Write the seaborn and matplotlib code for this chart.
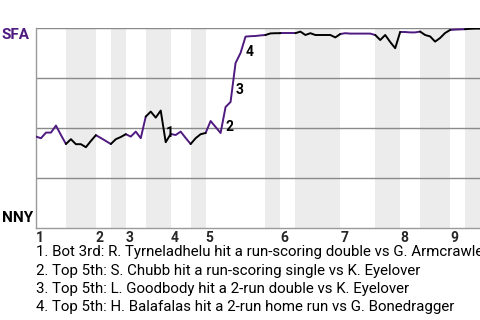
import matplotlib
matplotlib.use("Agg")
import matplotlib.pyplot as plt
import seaborn as sns
import pandas as pd
import numpy as np

# ---- data ----
# SFA win probability after each plate appearance (index = plate appearance)
win_prob = [0.457, 0.449, 0.477, 0.477, 0.512, 0.465,
            0.420, 0.444, 0.419, 0.419, 0.404, 0.435,
            0.464, 0.450, 0.435,
            0.420, 0.444, 0.455,
            0.469, 0.457, 0.482, 0.449,
            0.557, 0.582, 0.552, 0.587, 0.429,
            0.470, 0.465, 0.482, 0.450,
            0.420, 0.449, 0.469,
            0.475, 0.535, 0.505, 0.475, 0.605, 0.630, 0.825, 0.875,
            0.957, 0.959, 0.960, 0.963,
            0.965, 0.973, 0.974,
            0.974, 0.974, 0.974,
            0.974, 0.982, 0.965, 0.974, 0.965, 0.965, 0.965, 0.965, 0.953,
            0.970, 0.974, 0.972, 0.972, 0.972, 0.972, 0.972,
            0.965, 0.940, 0.965, 0.930, 0.899,
            0.980, 0.980, 0.978, 0.978,
            0.982, 0.965, 0.958, 0.932, 0.950, 0.975,
            0.990, 0.992, 0.993,
            0.994, 0.996, 0.997, 0.997]

# plate-appearance index where each half inning begins (top 1, bot 1, top 2, ...)
half_starts = [0, 6, 12, 15, 18, 22, 27, 31, 34, 46, 49, 52, 61, 68, 73, 77, 83, 86]
inning_labels = ["1", "2", "3", "4", "5", "6", "7", "8", "9"]
x_end = 89

# key events: plate appearance index where the swing ends, label number
event_idx = [26, 38, 40, 42]
event_nums = ["1", "2", "3", "4"]
event_texts = [
    "1. Bot 3rd: R. Tyrneladhelu hit a run-scoring double vs G. Armcrawler",
    "2. Top 5th: S. Chubb hit a run-scoring single vs K. Eyelover",
    "3. Top 5th: L. Goodbody hit a 2-run double vs K. Eyelover",
    "4. Top 5th: H. Balafalas hit a 2-run home run vs G. Bonedragger",
]
team_top = "SFA"
team_bottom = "NNY"

PURPLE = "#4f1a80"

# ---- build table of segments by half inning ----
rows = []
bounds = half_starts + [x_end]
for h in range(len(half_starts)):
    s, e = bounds[h], min(bounds[h + 1], len(win_prob) - 1)
    side = "top" if h % 2 == 0 else "bot"
    for i in range(s, e + 1):
        rows.append({"pa": i, "wp": win_prob[i], "half": h, "side": side})
df = pd.DataFrame(rows)

sns.set_theme(style="white")
plt.rcParams["font.family"] = ["Roboto", "DejaVu Sans"]

fig = plt.figure(figsize=(4.8, 3.2), dpi=100)
ax = fig.add_axes([36 / 480, 1 - 228 / 320, 444 / 480, 200 / 320])

# shaded bands for bottom halves
for h in range(1, len(half_starts), 2):
    s = half_starts[h]
    e = half_starts[h + 1] if h + 1 < len(half_starts) else x_end + 5
    ax.axvspan(s, e, color="#ececec", lw=0, zorder=0)

for yv in [0.25, 0.5, 0.75, 1.0]:
    ax.axhline(yv, color="#8a8a8a", lw=1.0, zorder=1)

sns.lineplot(data=df, x="pa", y="wp", hue="side", units="half", estimator=None,
             palette={"top": PURPLE, "bot": "black"}, lw=1.4, legend=False,
             ax=ax, zorder=3)

for idx, num in zip(event_idx, event_nums):
    ymid = (win_prob[idx - 1] + win_prob[idx]) / 2
    ax.text(idx, ymid, num, ha="left", va="top", fontsize=10, fontweight="bold",
            color="black", zorder=4)

ax.set_xlim(0, x_end)
ax.set_ylim(0, 1)
ax.set_xlabel("")
ax.set_ylabel("")
ax.set_yticks([])
inning_pos = half_starts[0::2]
ax.set_xticks(inning_pos)
ax.set_xticklabels(inning_labels, fontweight="bold", fontsize=10, ha="left")
ax.tick_params(axis="x", length=0, pad=2)
for side in ["top", "right"]:
    ax.spines[side].set_visible(False)
for side in ["left", "bottom"]:
    ax.spines[side].set_color("#9a9a9a")
    ax.spines[side].set_linewidth(1.0)

fig.text(2 / 480, 1 - 28 / 320, team_top, ha="left", va="top", fontsize=11,
         fontweight="bold", color=PURPLE)
fig.text(2 / 480, 1 - 225 / 320, team_bottom, ha="left", va="bottom", fontsize=11,
         fontweight="bold", color="black")

for k, t in enumerate(event_texts):
    fig.text(36 / 480, 1 - (252 + 18.5 * k) / 320, t, ha="left", va="center",
             fontsize=10.8, color="black")

fig.savefig("out.png", dpi=100)
